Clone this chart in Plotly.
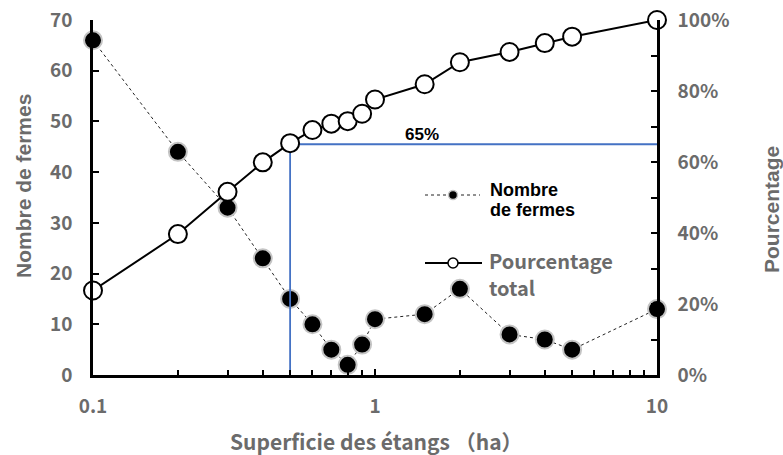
import plotly.graph_objects as go

# Pond surface classes (ha) and the survey results
superficie = [0.1, 0.2, 0.3, 0.4, 0.5, 0.6, 0.7, 0.8, 0.9, 1, 1.5, 2, 3, 4, 5, 10]
nombre_fermes = [66, 44, 33, 23, 15, 10, 5, 2, 6, 11, 12, 17, 8, 7, 5, 13]
pourcentage_total = [23.8, 39.7, 51.6, 59.9, 65.3, 69.0, 70.8, 71.5, 73.6,
                     77.6, 81.9, 88.1, 91.0, 93.5, 95.3, 100.0]

# Threshold guide: 65 % of farms reached at 0.5 ha
seuil_superficie = 0.5
seuil_pct = 65
x_max = 10

x_tickvals = [0.1, 1, 10]
x_ticktext = ["0.1", "1", "10"]
x_minor = [0.2, 0.3, 0.4, 0.5, 0.6, 0.7, 0.8, 0.9, 2, 3, 4, 5, 6, 7, 8, 9]

W, H = 783, 455
L, R, T, B = 93, 126, 20, 80
PW, PH = W - L - R, H - T - B

GRAY = "#6b6b6b"
BLUE = "#4472C4"
JP = "Noto Sans CJK JP"
SANS = "Liberation Sans, Arial, sans-serif"


def px(x):
    return (x - L) / PW


def py(y):
    return (T + PH - y) / PH


fig = go.Figure()

fig.add_trace(go.Scatter(
    x=superficie, y=nombre_fermes, mode="lines+markers",
    line=dict(color="#222222", width=1, dash="dot"),
    marker=dict(size=18, color="black", line=dict(color="#c4c4c4", width=2)),
    cliponaxis=False, showlegend=False, yaxis="y",
))

fig.add_trace(go.Scatter(
    x=[seuil_superficie, seuil_superficie, x_max], y=[0, seuil_pct, seuil_pct],
    mode="lines", line=dict(color=BLUE, width=1.8),
    cliponaxis=False, showlegend=False, yaxis="y2",
))

fig.add_trace(go.Scatter(
    x=superficie, y=pourcentage_total, mode="lines+markers",
    line=dict(color="black", width=2),
    marker=dict(size=18, color="white", line=dict(color="black", width=2)),
    cliponaxis=False, showlegend=False, yaxis="y2",
))

tickfont = dict(family=JP, size=19, color=GRAY, weight="bold")
axis_common = dict(showline=True, linecolor="black", linewidth=2.5, showgrid=False,
                   zeroline=False, ticks="inside", ticklen=6, tickwidth=2,
                   tickcolor="black", tickfont=tickfont, automargin=False)

fig.update_layout(
    width=W, height=H,
    margin=dict(l=L, r=R, t=T, b=B),
    paper_bgcolor="white", plot_bgcolor="white",
    xaxis=dict(type="log", range=[-1, 1], tickvals=x_tickvals, ticktext=x_ticktext,
               minor=dict(tickvals=x_minor, ticks="inside", ticklen=5, tickwidth=1.5,
                          tickcolor="black"),
               ticklabelstandoff=12, **axis_common),
    yaxis=dict(range=[0, 70], dtick=10, ticklabelstandoff=14, **axis_common),
    yaxis2=dict(range=[0, 100], dtick=20, ticksuffix="%", overlaying="y", side="right",
                minor=dict(dtick=10, ticks="inside", ticklen=6, tickwidth=2,
                           tickcolor="black"),
                ticklabelstandoff=14, **axis_common),
)

shapes = [
    # legend keys
    dict(type="line", xref="paper", yref="paper", x0=px(425), x1=px(480),
         y0=py(195), y1=py(195), line=dict(color="#222222", width=1, dash="dot")),
    dict(type="circle", xref="paper", yref="paper", xsizemode="pixel", ysizemode="pixel",
         xanchor=px(453), yanchor=py(195), x0=-4.5, x1=4.5, y0=-4.5, y1=4.5,
         fillcolor="black", line=dict(color="#c4c4c4", width=1.5)),
    dict(type="line", xref="paper", yref="paper", x0=px(425), x1=px(482),
         y0=py(263), y1=py(263), line=dict(color="black", width=2)),
    dict(type="circle", xref="paper", yref="paper", xsizemode="pixel", ysizemode="pixel",
         xanchor=px(453), yanchor=py(263), x0=-5, x1=5, y0=-5, y1=5,
         fillcolor="white", line=dict(color="black", width=1.5)),
]

annotations = [
    dict(text="Nombre de fermes", x=px(23), y=py(186), textangle=-90,
         font=dict(family=SANS, size=21, color=GRAY, weight="bold")),
    dict(text="Pourcentage", x=px(772), y=py(210), textangle=-90,
         font=dict(family=SANS, size=21, color=GRAY, weight="bold")),
    dict(text="Superficie des étangs （ha）", x=px(376), y=py(441),
         font=dict(family=JP, size=21, color=GRAY, weight="bold")),
    dict(text="65%", x=px(422), y=py(134),
         font=dict(family=SANS, size=17, color="black", weight="bold")),
    dict(text="Nombre", x=px(488), y=py(190), xanchor="left",
         font=dict(family=SANS, size=18, color="black", weight="bold")),
    dict(text="de fermes", x=px(488), y=py(210), xanchor="left",
         font=dict(family=SANS, size=18, color="black", weight="bold")),
    dict(text="Pourcentage", x=px(487), y=py(260), xanchor="left",
         font=dict(family=JP, size=20, color=GRAY, weight="bold")),
    dict(text="total", x=px(487), y=py(287), xanchor="left",
         font=dict(family=JP, size=20, color=GRAY, weight="bold")),
]
for a in annotations:
    a.setdefault("xanchor", "center")
    a.update(xref="paper", yref="paper", yanchor="middle", showarrow=False)

fig.update_layout(shapes=shapes, annotations=annotations)

fig.write_html("out.html")
